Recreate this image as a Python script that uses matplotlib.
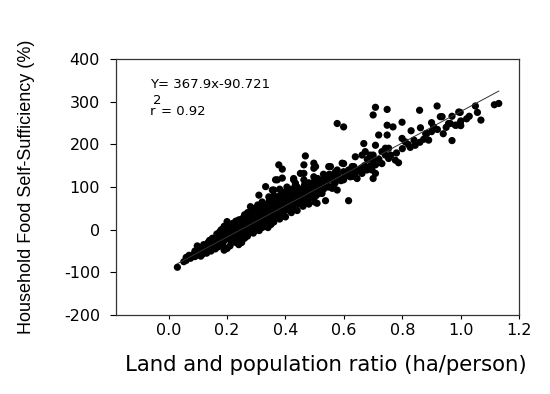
import matplotlib
matplotlib.use("Agg")
import matplotlib.pyplot as plt
import numpy as np

plt.rcParams['font.family'] = ['DejaVu Sans']
plt.rcParams['axes.unicode_minus'] = False

# land/population ratio (ha/person) and household food self-sufficiency (%)
land_ratio = [
    0.03, 0.052, 0.06, 0.075, 0.08, 0.09, 0.098, 0.098, 0.105, 0.11, 0.115, 0.12,
    0.126, 0.13, 0.135, 0.14, 0.149, 0.15, 0.155, 0.16, 0.165, 0.172, 0.175, 0.18,
    0.185, 0.19, 0.195, 0.2, 0.2, 0.2, 0.205, 0.21, 0.215, 0.22, 0.22, 0.225,
    0.23, 0.23, 0.235, 0.24, 0.24, 0.245, 0.25, 0.25, 0.25, 0.255, 0.258, 0.26,
    0.26, 0.265, 0.27, 0.27, 0.275, 0.28, 0.28, 0.28, 0.285, 0.286, 0.29, 0.29,
    0.295, 0.3, 0.3, 0.305, 0.305, 0.309, 0.31, 0.31, 0.315, 0.32, 0.32, 0.325,
    0.33, 0.33, 0.332, 0.335, 0.34, 0.343, 0.345, 0.35, 0.35, 0.355, 0.355, 0.36,
    0.36, 0.365, 0.366, 0.37, 0.372, 0.372, 0.375, 0.377, 0.38, 0.383, 0.385, 0.389,
    0.389, 0.39, 0.395, 0.4, 0.4, 0.405, 0.41, 0.411, 0.415, 0.417, 0.417, 0.42,
    0.425, 0.428, 0.428, 0.434, 0.434, 0.44, 0.44, 0.445, 0.446, 0.45, 0.451, 0.455,
    0.46, 0.463, 0.463, 0.463, 0.463, 0.468, 0.47, 0.474, 0.48, 0.485, 0.49, 0.497,
    0.497, 0.497, 0.497, 0.5, 0.503, 0.497, 0.508, 0.51, 0.515, 0.52, 0.525, 0.53,
    0.531, 0.537, 0.537, 0.543, 0.548, 0.55, 0.554, 0.56, 0.56, 0.56, 0.57, 0.577,
    0.577, 0.58, 0.59, 0.594, 0.599, 0.599, 0.599, 0.605, 0.616, 0.616, 0.622, 0.622,
    0.628, 0.634, 0.639, 0.639, 0.645, 0.65, 0.662, 0.662, 0.668, 0.673, 0.679, 0.69,
    0.696, 0.696, 0.7, 0.7, 0.7, 0.708, 0.708, 0.708, 0.73, 0.742, 0.742, 0.753,
    0.753, 0.776, 0.787, 0.799, 0.81, 0.827, 0.844, 0.873, 0.879, 0.89, 0.884, 0.9,
    0.9, 0.907, 0.83, 0.862, 0.719, 0.748, 0.748, 0.768, 0.799, 0.577, 0.599, 0.708,
    0.70, 0.748, 0.859, 0.919, 0.93, 0.97, 0.993, 0.964, 0.985, 0.936, 0.958, 0.981,
    0.998, 1.0, 0.97, 1.029, 0.998, 1.05, 1.057, 1.069, 1.115, 1.13,
    # dense band
    0.16, 0.17, 0.18, 0.19, 0.2, 0.21, 0.215, 0.22, 0.225, 0.23, 0.235, 0.24,
    0.245, 0.25, 0.255, 0.26, 0.265, 0.27, 0.275, 0.28, 0.285, 0.29, 0.295, 0.3,
    0.3, 0.305, 0.31, 0.315, 0.32, 0.32, 0.325, 0.33, 0.335, 0.34, 0.34, 0.345,
    0.35, 0.35, 0.355, 0.36, 0.36, 0.365, 0.37, 0.37, 0.375, 0.38, 0.38, 0.385,
    0.39, 0.39, 0.395, 0.4, 0.405, 0.405, 0.41, 0.415, 0.42, 0.42, 0.425, 0.43,
    0.435, 0.44, 0.445, 0.45, 0.455, 0.46, 0.465, 0.47, 0.475, 0.48, 0.485, 0.49,
    0.5, 0.505, 0.51, 0.52, 0.525, 0.53, 0.54, 0.545, 0.55, 0.565, 0.57, 0.585,
    0.61, 0.63, 0.66, 0.67, 0.68, 0.69, 0.72, 0.73, 0.76, 0.78, 0.8, 0.82,
    0.84, 0.86, 0.88, 0.92, 0.95, 0.94, 1.0, 1.02,
    0.11, 0.13, 0.145, 0.16, 0.17, 0.185, 0.19, 0.21, 0.23, 0.24, 0.26, 0.27,
    0.29, 0.31, 0.32, 0.33, 0.34, 0.35, 0.36, 0.38, 0.4, 0.42, 0.44, 0.46,
    0.48, 0.5,
    0.06, 0.07, 0.085, 0.09, 0.1, 0.105, 0.115, 0.12, 0.125, 0.135, 0.14, 0.15,
    0.155, 0.165, 0.175, 0.18, 0.19,
]
self_suff = [
    -88, -75, -72, -67, -62, -63, -59, -38, -55, -50, -58, -48,
    -51, -42, -46, -38, -44, -33, -40, -28, -36, -32, -22, -30,
    -18, -26, -22, -44, 19, -12, -20, -5, -15, -25, 0, -10,
    5, -18, -3, 23, -8, 8, -30, 12, -5, 2, 30, 15,
    -10, 20, 5, 28, -2, 54, 12, 30, 20, 50, 8, 35,
    25, 15, 40, 0, 30, 81, 20, 45, 10, 35, 55, 25,
    54, 40, 101, 15, 30, 77, 48, 60, 35, 93, 20, 93,
    45, 70, 117, 55, 62, 117, 35, 152, 80, 77, 50, 142,
    121, 65, 66, 89, 45, 75, 58, 70, 85, 81, 62, 50,
    72, 117, 120, 105, 109, 70, 90, 60, 77, 85, 132, 70,
    95, 152, 132, 117, 85, 173, 75, 66, 100, 93, 80, 109,
    77, 156, 144, 90, 148, 124, 62, 100, 85, 110, 117, 95,
    117, 105, 68, 124, 148, 100, 148, 124, 97, 120, 110, 93,
    140, 128, 115, 156, 117, 136, 155, 125, 140, 68, 124, 140,
    148, 148, 132, 171, 120, 140, 175, 132, 202, 183, 140, 150,
    171, 140, 163, 175, 120, 152, 132, 198, 183, 191, 175, 191,
    167, 163, 157, 214, 206, 193, 198, 212, 214, 210, 226, 230,
    251, 241, 232, 239, 222, 222, 245, 241, 252, 249, 241, 287,
    269, 282, 280, 290, 265, 266, 276, 249, 245, 265, 249, 245,
    249, 244, 209, 266, 275, 290, 275, 257, 293, 296,
    # dense band
    -20, -15, -8, -2, 5, 10, -30, 15, -22, 20, -15, 10,
    -20, 25, -12, 35, 0, 40, 15, -5, 40, 22, 50, 0,
    28, 58, 8, 35, 15, 65, 45, 25, 60, 20, 45, 70,
    25, 50, 65, 30, 80, 50, 40, 75, 60, 45, 95, 70,
    40, 85, 55, 70, 50, 100, 75, 60, 95, 70, 55, 85,
    65, 100, 80, 65, 95, 75, 105, 90, 80, 110, 75, 100,
    115, 80, 120, 95, 85, 130, 100, 115, 130, 105, 135, 120,
    130, 125, 145, 150, 165, 175, 165, 155, 175, 180, 190, 200,
    210, 205, 225, 235, 240, 225, 255, 260,
    -62, -55, -50, -45, -40, -35, -48, -38, -30, -35, -20, -15,
    -8, -2, 5, 8, 5, 12, 18, 25, 30, 40, 45, 55,
    60, 65,
    -65, -60, -58, -50, -48, -42, -45, -35, -40, -30, -25, -20,
    -28, -10, -5, 0, 8,
]

# fitted regression
slope = 367.9
intercept = -90.721
r_squared = 0.92

x_ticks = [0.0, 0.2, 0.4, 0.6, 0.8, 1.0, 1.2]
y_ticks = [-200, -100, 0, 100, 200, 300, 400]

fig = plt.figure(figsize=(5.5, 3.94), dpi=100)
ax = fig.add_axes([0.211, 0.2005, 0.733, 0.6495])

ax.scatter(land_ratio, self_suff, s=27, color='black', edgecolors='none', zorder=3)

xs = np.array([min(land_ratio), max(land_ratio)])
ax.plot(xs, slope * xs + intercept, color='#333333', lw=0.7, zorder=4)

ax.set_xlim(-0.18, 1.2)
ax.set_ylim(-200, 400)
ax.set_xticks(x_ticks)
ax.set_xticklabels([f"{t:.1f}" for t in x_ticks])
ax.set_yticks(y_ticks)
ax.tick_params(axis='y', direction='out', length=4.5, width=0.8, pad=7, labelsize=11.5)
ax.tick_params(axis='x', direction='out', length=3, width=0.8, pad=3, labelsize=11.5)
for sp in ax.spines.values():
    sp.set_linewidth(0.9)
    sp.set_color('#333333')

ax.set_xlabel('Land and population ratio (ha/person)', fontsize=15.3)
ax.xaxis.set_label_coords(0.521, -0.156)
ax.set_ylabel('Household Food Self-Sufficiency (%)', fontsize=13,
              family=['Liberation Sans', 'DejaVu Sans'])
ax.yaxis.set_label_coords(-0.2, 0.5)

# regression equation and r squared
ax.text(-0.065, 340, f"Y= {slope}x{intercept}", fontsize=9.5, va='center')
ax.text(-0.063, 278, "r", fontsize=9.5, va='center')
ax.annotate("2", xy=(-0.063, 278), xytext=(2.2, 8), textcoords='offset points',
            fontsize=9.5, va='center')
ax.annotate("= 0.92", xy=(-0.063, 278), xytext=(7.5, 0), textcoords='offset points',
            fontsize=9.5, va='center')

fig.savefig('out.png', dpi=100)
